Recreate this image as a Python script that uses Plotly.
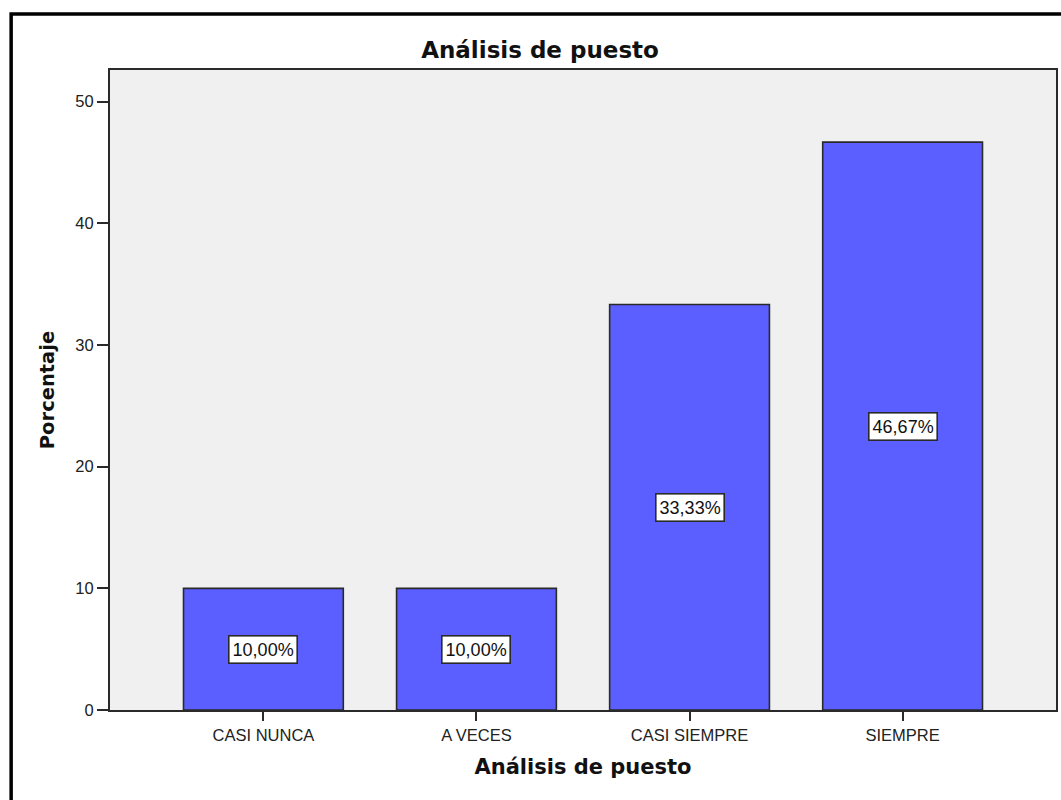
import plotly.graph_objects as go

# Frequency table: share of respondents per answer
categories = ["CASI NUNCA", "A VECES", "CASI SIEMPRE", "SIEMPRE"]
percentages = [10.00, 10.00, 33.33, 46.67]
y_ticks = [0, 10, 20, 30, 40, 50]

title_text = "Análisis de puesto"
y_title = "Porcentaje"

BAR_COLOR = "#5B5FFF"
EDGE = "#2a2a2a"
BOLD = "DejaVu Sans"
REG = "Liberation Sans, Arial, sans-serif"

x_pos = list(range(len(categories)))

fig = go.Figure()
fig.add_trace(go.Bar(
    x=x_pos,
    y=percentages,
    width=0.75,
    marker=dict(color=BAR_COLOR, line=dict(color=EDGE, width=1.6)),
    hoverinfo="skip",
    showlegend=False,
))

# Value boxes in the middle of each bar
for xi, v in zip(x_pos, percentages):
    fig.add_annotation(
        x=xi, y=v / 2, xref="x", yref="y",
        text=f"{v:.2f}".replace(".", ",") + "%",
        showarrow=False,
        font=dict(family=REG, size=18, color="#111"),
        bgcolor="white",
        bordercolor=EDGE,
        borderwidth=1.6,
        borderpad=3,
    )

fig.update_layout(
    width=1061,
    height=800,
    margin=dict(l=110, r=3, t=70, b=90),
    paper_bgcolor="white",
    plot_bgcolor="#F0F0F0",
    title=dict(
        text=f"<b>{title_text}</b>",
        font=dict(family=BOLD, size=23, color="#111"),
        x=0.509, xanchor="center",
        y=1 - 50 / 800, yanchor="middle",
    ),
    xaxis=dict(
        range=[-0.72, 3.72],
        tickmode="array",
        tickvals=x_pos,
        ticktext=categories,
        ticks="outside",
        ticklen=9,
        tickwidth=2,
        tickcolor=EDGE,
        tickfont=dict(family=REG, size=16.5, color="#222"),
        showline=True,
        linecolor=EDGE,
        linewidth=2,
        mirror=True,
        showgrid=False,
        zeroline=False,
        title=dict(text=f"<b>{title_text}</b>",
                   font=dict(family=BOLD, size=21, color="#111"),
                   standoff=17),
    ),
    yaxis=dict(
        range=[0, 52.6],
        tickmode="array",
        tickvals=y_ticks,
        ticks="outside",
        ticklen=11,
        tickwidth=2,
        tickcolor=EDGE,
        tickfont=dict(family=REG, size=16.5, color="#222"),
        showline=True,
        linecolor=EDGE,
        linewidth=2,
        mirror=True,
        showgrid=False,
        zeroline=False,
        title=dict(text=f"<b>{y_title}</b>",
                   font=dict(family=BOLD, size=19.5, color="#111"),
                   standoff=16),
    ),
)

# Outer chart frame (left and top edges visible)
fig.add_shape(
    type="rect", xref="paper", yref="paper",
    x0=-0.1045, x1=1.02, y0=-0.2, y1=1.0875,
    line=dict(color="black", width=3.5),
    fillcolor="rgba(0,0,0,0)",
    layer="above",
)

fig.write_html("out.html")
